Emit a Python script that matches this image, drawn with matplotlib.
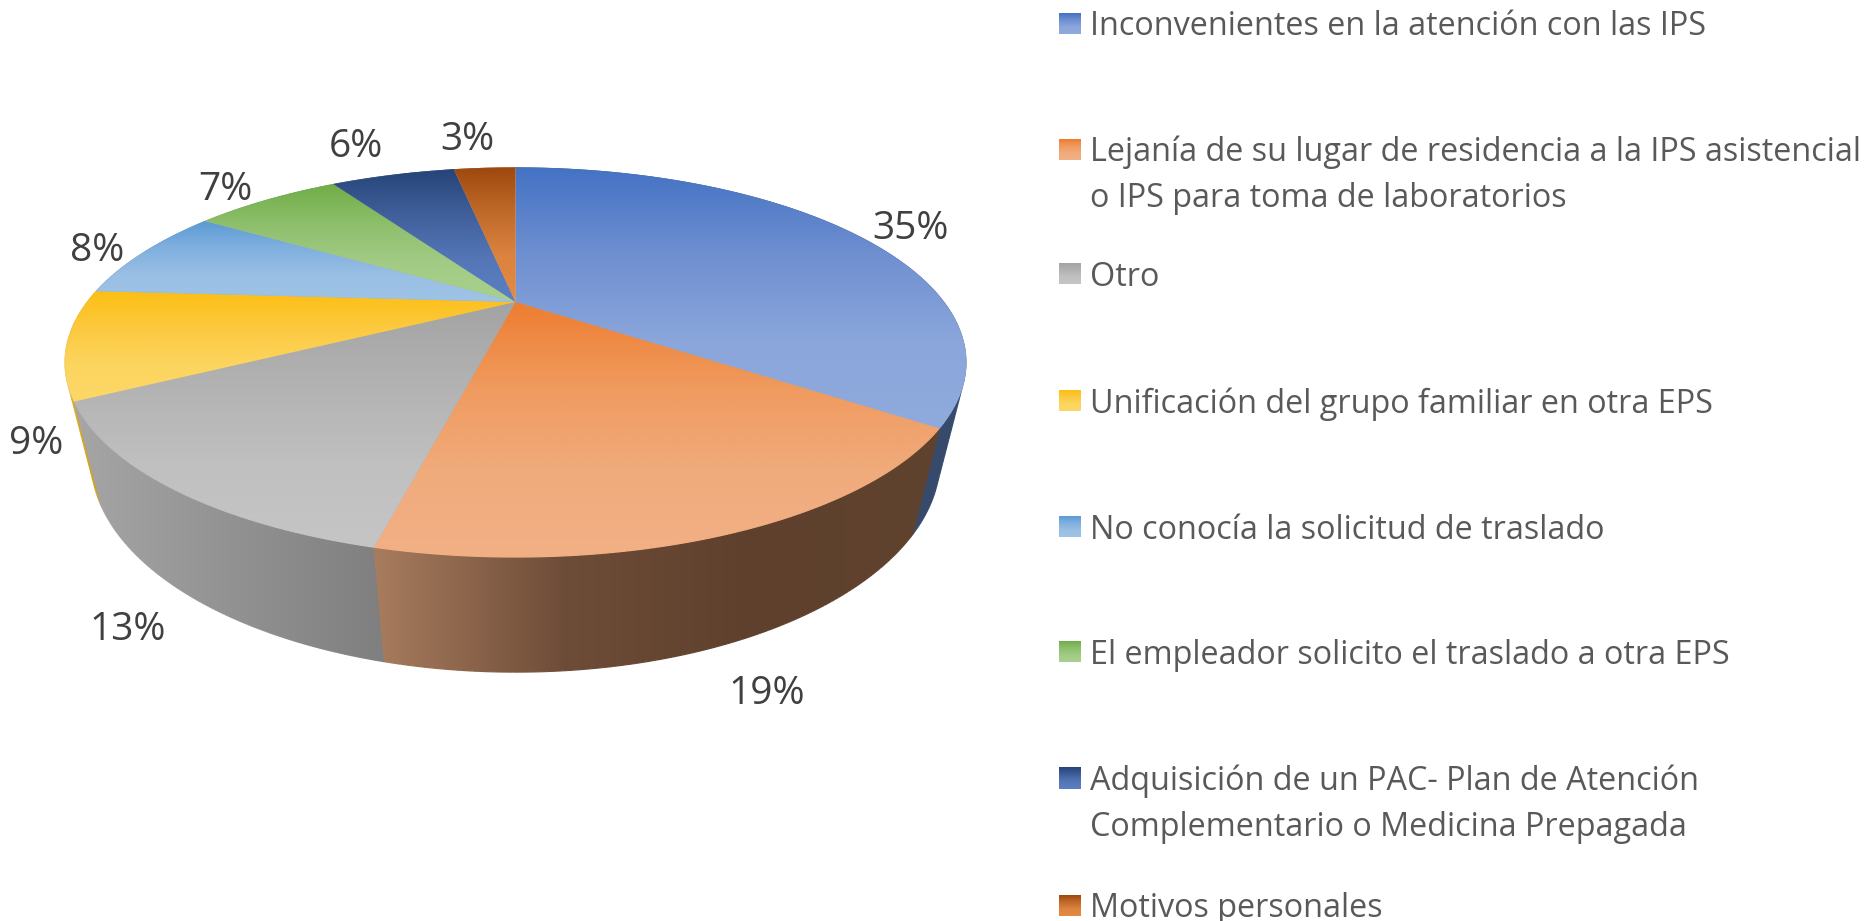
import numpy as np
import matplotlib
matplotlib.use('Agg')
import matplotlib.pyplot as plt
from matplotlib.colors import to_rgb
from matplotlib.patches import Polygon
from matplotlib.collections import LineCollection

plt.rcParams['font.family'] = ['Open Sans', 'DejaVu Sans']

labels = ['Inconvenientes en la atención con las IPS',
          'Lejanía de su lugar de residencia a la IPS asistencial\no IPS para toma de laboratorios',
          'Otro',
          'Unificación del grupo familiar en otra EPS',
          'No conocía la solicitud de traslado',
          'El empleador solicito el traslado a otra EPS',
          'Adquisición de un PAC- Plan de Atención\nComplementario o Medicina Prepagada',
          'Motivos personales']
values = [35.0, 18.7, 13.3, 9.0, 8.0, 7.0, 6.0, 3.0]

top_colors = [['#4472c4', '#6f8fd0', '#8aa6db', '#8faadc'], ['#ed7d31', '#f09a5e', '#f0ab7c', '#f2b085'],
              ['#a3a3a3', '#b2b2b2', '#c0c0c0', '#c5c5c5'], ['#fdbf14', '#fcc93f', '#fcd55f', '#fdd868'],
              ['#5b9bd5', '#80b0df', '#9abfe4', '#9dc3e6'], ['#70ad47', '#8dbf6b', '#a2cb85', '#a9d18e'],
              ['#264478', '#3f5f9a', '#5476b6', '#5a80c4'], ['#9e480e', '#c06a2a', '#dc8340', '#e68a42']]
wall_colors = [['#374a6b', '#374a6b'], ['#a87c5e', '#6e4d38', '#5e402c', '#60432f'],
               ['#a6a6a6', '#7f7f7f'], ['#dcae2a', '#c89a10'], ['#4a7fae', '#4a7fae'],
               ['#5a8a38', '#5a8a38'], ['#1e365f', '#1e365f'], ['#7e390b', '#7e390b']]

# label centers and legend rows, in pixels
label_pos = [(910, 229), (767, 694), (128, 630), (36, 444), (97, 251), (225, 190), (356, 147), (467, 140)]
legend_y = [23.5, 149.5, 274, 401, 527, 652, 778, 905]

# perspective of the pie
cx, cy = 515.5, 302
a, b, k = 428, -175.7, 0.311
d, vy = 0.055, 2114


def project(theta, depth=0.0):
    x, y = np.sin(theta), np.cos(theta)
    w = 1 + k * y
    h = w + depth
    return cx + a * x / h, (cy * w + b * y + depth * vy) / h


def mix(stops, t):
    rgb = np.array([to_rgb(c) for c in stops])
    pos = np.linspace(0, 1, len(stops))
    return np.stack([np.interp(t, pos, rgb[:, i]) for i in range(3)], axis=-1)


def hull(pts):
    # walls are the union of top-to-bottom strips, so their outline is convex
    pts = sorted(map(tuple, pts))

    def half(seq):
        out = []
        for p in seq:
            while len(out) > 1 and (out[-1][0] - out[-2][0]) * (p[1] - out[-2][1]) - (out[-1][1] - out[-2][1]) * (p[0] - out[-2][0]) <= 0:
                out.pop()
            out.append(p)
        return out[:-1]
    return np.array(half(pts) + half(pts[::-1]))


def gradient_fill(ax, pts, stops, horizontal=False, outline=None):
    pts = np.asarray(pts)
    x0, y0 = pts.min(axis=0)
    x1, y1 = pts.max(axis=0)
    t = np.linspace(0, 1, 256)
    img = mix(stops, t)
    img = img[None, :, :] if horizontal else img[:, None, :]
    im = ax.imshow(img, extent=(x0, x1, y1, y0), aspect='auto', interpolation='bilinear', zorder=ax.zcount)
    patch = Polygon(pts, closed=True, transform=ax.transData, fc='none', ec='none')
    im.set_clip_path(patch)
    # soft outline, clip paths are not antialiased
    if outline is None:
        outline = np.vstack([pts, pts[:1]])
    segs = []
    cols = []
    for p, q in zip(outline[:-1], outline[1:]):
        n = max(1, int(np.hypot(*(q - p)) / 6))
        line = p + np.linspace(0, 1, n + 1)[:, None] * (q - p)
        for u, v in zip(line[:-1], line[1:]):
            segs.append([u, v])
            mid = (u + v) / 2
            tt = (mid[0] - x0) / max(x1 - x0, 1) if horizontal else (mid[1] - y0) / max(y1 - y0, 1)
            cols.append(mix(stops, np.clip(tt, 0, 1)))
    ax.add_collection(LineCollection(segs, colors=cols, linewidths=0.9, zorder=ax.zcount + 0.5))
    ax.zcount += 1


fig = plt.figure(figsize=(18.66, 9.21), dpi=100)
ax = fig.add_axes([0, 0, 1, 1])
ax.zcount = 1

edges = np.radians(np.cumsum([0] + values) * 3.6)

# side walls, back slices first
order = np.argsort([-np.cos((edges[i] + edges[i + 1]) / 2) for i in range(len(values))])
for i in order:
    th = np.linspace(edges[i], edges[i + 1], 120)
    tx, ty = project(th)
    bx, by = project(th, d)
    pts = hull(np.vstack([np.column_stack([tx, ty]), np.column_stack([bx, by])]))
    gradient_fill(ax, pts, wall_colors[i], horizontal=True)

# base under the top surface so the seams between slices stay closed
ring = np.column_stack(project(np.linspace(0, 2 * np.pi, 360)))
ax.add_patch(Polygon(ring, closed=True, fc='#a9a9b5', ec='none', zorder=ax.zcount))
ax.zcount += 1

# top surface
for i in range(len(values)):
    th = np.linspace(edges[i], edges[i + 1], 120)
    tx, ty = project(th)
    arc = np.column_stack([tx, ty])
    pts = np.vstack([[cx, cy], arc])
    gradient_fill(ax, pts, top_colors[i], outline=arc)

for (x, y), v in zip(label_pos, values):
    ax.text(x, y, f'{v:.0f}%', fontsize=28, color='#404040', ha='center', va='center', zorder=100)

# legend
for y, name, cols in zip(legend_y, labels, top_colors):
    ax.imshow(mix(cols, np.linspace(0, 1, 64))[:, None, :], extent=(1059, 1081, y + 10.5, y - 10.5),
              aspect='auto', interpolation='bilinear', zorder=50)
    for j, line in enumerate(name.split('\n')):
        ax.text(1090, y + 11.5 + j * 46, line, fontsize=23.3, color='#595959', ha='left', va='baseline', zorder=100)

ax.set_xlim(0, 1866)
ax.set_ylim(921, 0)
ax.axis('off')
fig.savefig('out.png', dpi=100, facecolor='white')
